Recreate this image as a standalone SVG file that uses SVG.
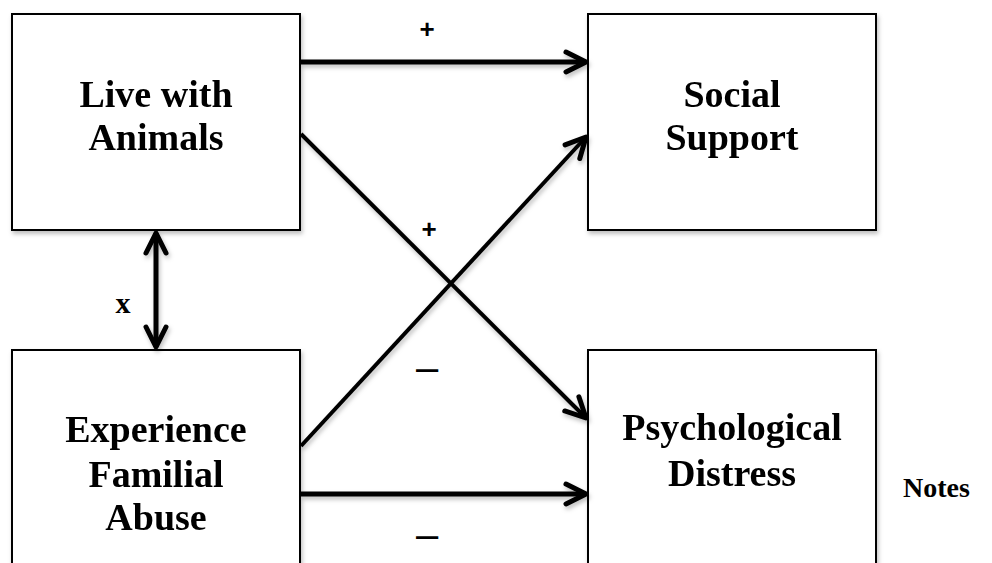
<svg xmlns="http://www.w3.org/2000/svg" width="992" height="563" viewBox="0 0 992 563">
  <defs>
    <filter id="sh" x="-10%" y="-10%" width="130%" height="130%">
      <feDropShadow dx="1.5" dy="3" stdDeviation="2" flood-color="#000" flood-opacity="0.25"/>
    </filter>
    <marker id="ah" markerUnits="userSpaceOnUse" viewBox="-26 -14 30 28" markerWidth="30" markerHeight="28" refX="0" refY="0" orient="auto-start-reverse" overflow="visible">
      <path d="M-20,-10 L0,0 L-20,10" fill="none" stroke="#000" stroke-width="5" stroke-linecap="round" stroke-linejoin="round"/>
    </marker>
  </defs>
  <style>
    .box { fill: #fff; stroke: #000; stroke-width: 2; }
    .lbl { font-family: "Liberation Serif", "Times New Roman", serif; font-weight: bold; font-size: 38px; fill: #000; text-anchor: middle; }
    .sign { font-family: "Liberation Sans", Arial, sans-serif; font-weight: bold; font-size: 26px; fill: #000; text-anchor: middle; }
    .dash { font-family: "Liberation Sans", Arial, sans-serif; font-weight: normal; font-size: 40px; fill: #000; text-anchor: middle; }
    .conn { fill: none; stroke: #000; stroke-linecap: butt; }
  </style>
  <rect width="992" height="563" fill="#fff"/>

  <g id="live-with-animals" filter="url(#sh)">
    <rect class="box" x="12" y="14" width="288" height="216"/>
    <text class="lbl" x="156" y="107">Live with</text>
    <text class="lbl" x="156" y="150">Animals</text>
  </g>
  <g id="social-support" filter="url(#sh)">
    <rect class="box" x="588" y="14" width="288" height="216"/>
    <text class="lbl" x="732" y="107">Social</text>
    <text class="lbl" x="732" y="150">Support</text>
  </g>
  <g id="experience-familial-abuse" filter="url(#sh)">
    <rect class="box" x="12" y="350" width="288" height="230"/>
    <text class="lbl" x="156" y="442">Experience</text>
    <text class="lbl" x="156" y="487">Familial</text>
    <text class="lbl" x="156" y="530">Abuse</text>
  </g>
  <g id="psychological-distress" filter="url(#sh)">
    <rect class="box" x="588" y="350" width="288" height="230"/>
    <text class="lbl" x="732" y="440">Psychological</text>
    <text class="lbl" x="732" y="486">Distress</text>
  </g>

  <g id="connectors" filter="url(#sh)">
    <line class="conn" x1="301" y1="62" x2="586" y2="62" stroke-width="5" marker-end="url(#ah)"/>
    <line class="conn" x1="301" y1="134" x2="586" y2="418" stroke-width="4" marker-end="url(#ah)"/>
    <line class="conn" x1="301" y1="446" x2="586" y2="137" stroke-width="4" marker-end="url(#ah)"/>
    <line class="conn" x1="301" y1="494" x2="586" y2="494" stroke-width="5" marker-end="url(#ah)"/>
    <line class="conn" x1="156" y1="233" x2="156" y2="347" stroke-width="5" marker-start="url(#ah)" marker-end="url(#ah)"/>
  </g>

  <g id="labels">
    <text class="sign" x="427" y="38">+</text>
    <text class="sign" x="429" y="238">+</text>
    <text class="dash" x="427" y="381">–</text>
    <text class="dash" x="427" y="548">–</text>
    <text x="123" y="313" font-family="Liberation Serif, serif" font-weight="bold" font-size="30" text-anchor="middle">x</text>
    <text x="903" y="497" font-family="Liberation Serif, serif" font-weight="bold" font-size="28">Notes</text>
  </g>
</svg>
